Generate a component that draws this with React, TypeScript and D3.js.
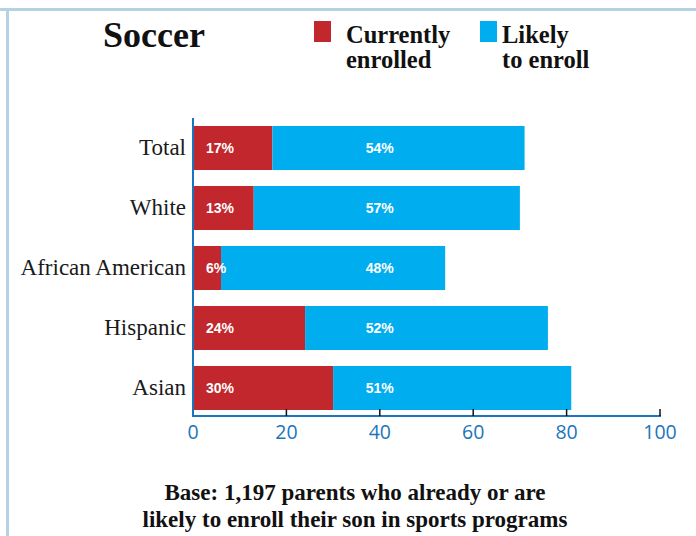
import React from "react";
import * as d3 from "d3";

const categories = ["Total", "White", "African American", "Hispanic", "Asian"];
const currentlyEnrolled = [17, 13, 6, 24, 30];
const likelyToEnroll = [54, 57, 48, 52, 51];
const xTicks = [0, 20, 40, 60, 80, 100];
const seriesNames = [["Currently", "enrolled"], ["Likely", "to enroll"]];
const title = "Soccer";
const footnote = ["Base: 1,197 parents who already or are", "likely to enroll their son in sports programs"];

const RED = "#c1272d";
const BLUE = "#00aeef";
const AXIS = "#1b75bc";
const SERIF = "'Liberation Serif', 'DejaVu Serif', serif";
const SANS = "'Liberation Sans', Arial, sans-serif";

export default function App() {
  const W = 696, H = 536;
  const x = d3.scaleLinear().domain([0, 100]).range([193, 660]);
  const y = d3.scaleBand().domain(categories).range([118, 418]).paddingInner(16 / 60).paddingOuter(0.1);
  const bh = 44;
  const yPos = (i: number) => 126 + i * 60;
  return (
    <svg width={W} height={H} style={{ position: "absolute", left: 0, top: 0 }} xmlns="http://www.w3.org/2000/svg">
      <rect x={0} y={0} width={W} height={H} fill="#fff" />
      <line x1={0} x2={W} y1={9.5} y2={9.5} stroke="#b5d2e4" strokeWidth={3} />
      <line x1={7.5} x2={7.5} y1={8} y2={H} stroke="#b5d2e4" strokeWidth={3} />
      <text x={103} y={47} fontFamily={SERIF} fontWeight="bold" fontSize={36} fill="#111">{title}</text>
      <rect x={314} y={21} width={17} height={21} fill={RED} />
      <rect x={480} y={21} width={17} height={21} fill={BLUE} />
      {seriesNames.map((lines, si) => (
        <text key={si} x={si === 0 ? 346 : 502} y={43} fontFamily={SERIF} fontWeight="bold" fontSize={24.5} fill="#111">
          {lines.map((l, li) => (
            <tspan key={li} x={si === 0 ? 346 : 502} dy={li === 0 ? 0 : 25}>{l}</tspan>
          ))}
        </text>
      ))}
      {categories.map((c, i) => {
        const y0 = yPos(i);
        const a = currentlyEnrolled[i];
        const b = likelyToEnroll[i];
        return (
          <g key={c}>
            <rect x={x(0)} y={y0} width={x(a) - x(0)} height={bh} fill={RED} />
            <rect x={x(a)} y={y0} width={x(a + b) - x(a)} height={bh} fill={BLUE} />
            <text x={x(0) + 13} y={y0 + bh / 2 + 5} fontFamily={SANS} fontWeight="bold" fontSize={14} fill="#fff">{a}%</text>
            <text x={x(40)} y={y0 + bh / 2 + 5} textAnchor="middle" fontFamily={SANS} fontWeight="bold" fontSize={14} fill="#fff">{b}%</text>
            <text x={186} y={y0 + bh / 2 + 7} textAnchor="end" fontFamily={SERIF} fontSize={23} fill="#1a1a1a">{c}</text>
          </g>
        );
      })}
      <line x1={x(0)} x2={x(0)} y1={118} y2={417} stroke={AXIS} strokeWidth={2} />
      <line x1={x(0) - 1} x2={x(100) + 1} y1={416} y2={416} stroke={AXIS} strokeWidth={2} />
      {xTicks.map((t) => (
        <g key={t}>
          {t > 0 && <line x1={x(t)} x2={x(t)} y1={409} y2={416} stroke="#111" strokeWidth={1.5} />}
          <text x={x(t)} y={439} textAnchor="middle" fontFamily="'Open Sans', 'Noto Sans', sans-serif" fontSize={19.5} fill={AXIS}>{t}</text>
        </g>
      ))}
      {footnote.map((l, i) => (
        <text key={i} x={355} y={500 + i * 27} textAnchor="middle" fontFamily={SERIF} fontWeight="bold" fontSize={23} fill="#111">{l}</text>
      ))}
    </svg>
  );
}
